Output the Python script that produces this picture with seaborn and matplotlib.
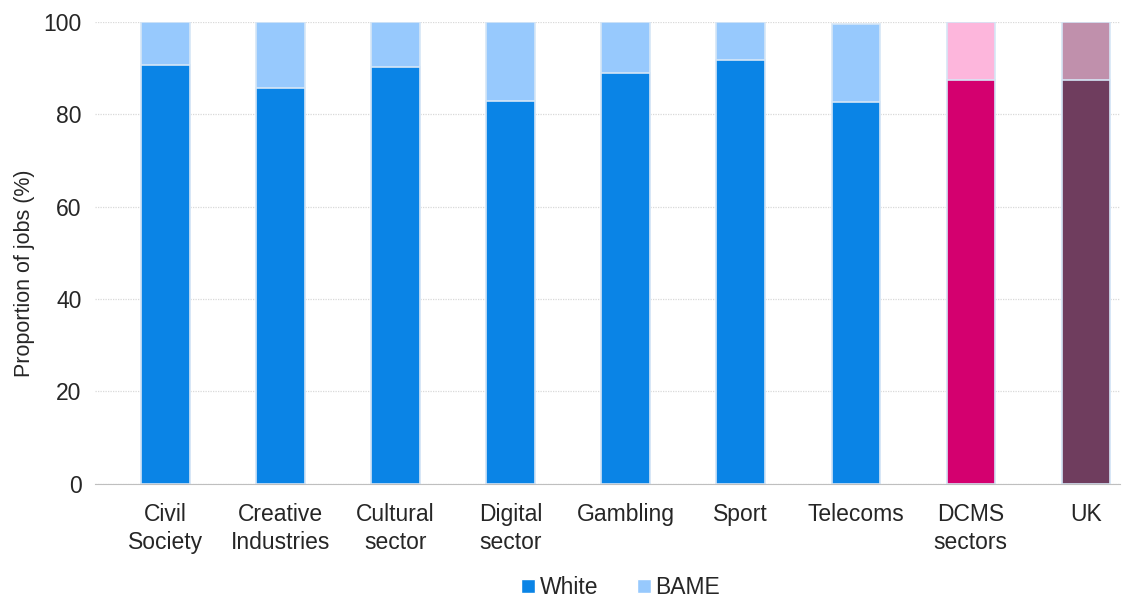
import matplotlib
matplotlib.use("Agg")
import matplotlib.pyplot as plt
from matplotlib.patches import Patch
import seaborn as sns
import pandas as pd

sectors = ["Civil\nSociety", "Creative\nIndustries", "Cultural\nsector", "Digital\nsector",
           "Gambling", "Sport", "Telecoms", "DCMS\nsectors", "UK"]
white = [90.7, 85.7, 90.2, 82.9, 89.0, 91.8, 82.7, 87.4, 87.4]
bame = [9.3, 14.3, 9.8, 17.1, 11.0, 8.2, 16.9, 12.6, 12.6]

dark_cols = ["#0a84e6"] * 7 + ["#d4006f", "#6f3d5e"]
light_cols = ["#97c9fd"] * 7 + ["#fdb6dc", "#c090ac"]

df = pd.DataFrame({"Sector": sectors, "White": white, "BAME": bame})
df["Total"] = df["White"] + df["BAME"]

sns.set_style("white")
plt.rcParams["font.family"] = ["Liberation Sans", "DejaVu Sans"]

fig = plt.figure(figsize=(11.35, 6.04), dpi=100)
ax = fig.add_axes([0.084, 0.199, 0.903, 0.765])

# stacked look: total bar behind, white share in front
sns.barplot(data=df, x="Sector", y="Total", hue="Sector", palette=light_cols,
            saturation=1, legend=False, width=0.42, ax=ax,
            edgecolor="#d6e6f6", linewidth=1.2)
sns.barplot(data=df, x="Sector", y="White", hue="Sector", palette=dark_cols,
            saturation=1, legend=False, width=0.42, ax=ax,
            edgecolor="#d6e6f6", linewidth=1.2)

ax.set_ylim(0, 100)
ax.set_xlim(-0.61, 8.3)
ax.set_yticks([0, 20, 40, 60, 80, 100])
ax.yaxis.grid(True, linestyle=(0, (1, 1)), color="#d9d9d9", linewidth=0.9)
ax.set_axisbelow(True)
for s in ["top", "right", "left"]:
    ax.spines[s].set_visible(False)
ax.spines["bottom"].set_color("#bfbfbf")
ax.tick_params(axis="both", labelsize=16.5, colors="#595959", length=0)
ax.tick_params(axis="x", labelcolor="#262626", pad=14)
ax.tick_params(axis="y", labelcolor="#262626", pad=10)
for lab in ax.get_xticklabels():
    lab.set_linespacing(1.25)
ax.set_xlabel("")
ax.set_ylabel("Proportion of jobs (%)", fontsize=15.5, color="#262626")
ax.yaxis.set_label_coords(-0.059, 0.455)

handles = [Patch(facecolor="#0a84e6", label="White"),
           Patch(facecolor="#97c9fd", label="BAME")]
fig.legend(handles=handles, loc="lower center", bbox_to_anchor=(0.547, -0.026), ncol=2,
           frameon=False, fontsize=16.5, handlelength=0.6, handleheight=0.6,
           handletextpad=0.2, columnspacing=1.7)

fig.savefig("out.png", dpi=100)
